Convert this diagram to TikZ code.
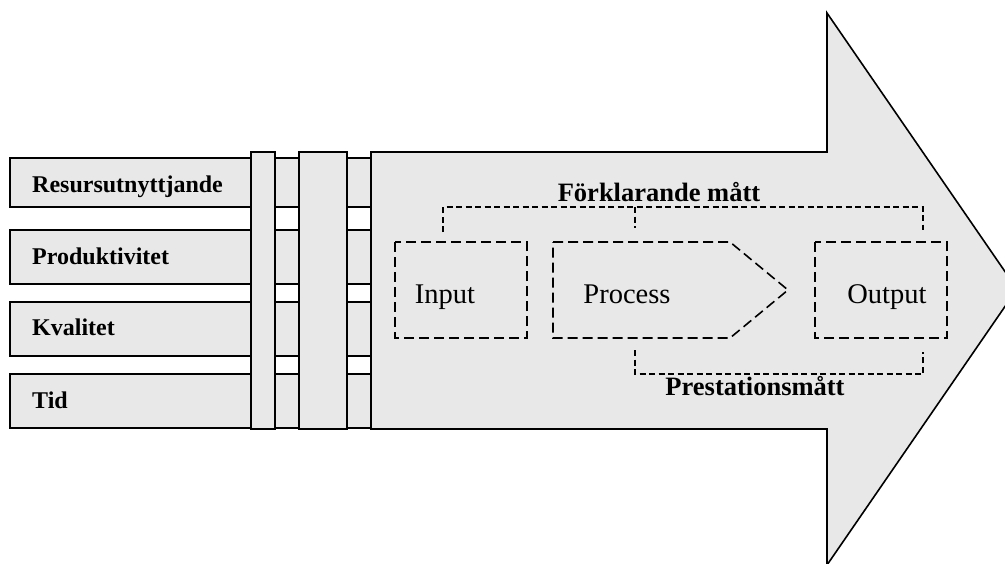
\documentclass[tikz,border=0pt]{standalone}
\usepackage{fontspec}
\setmainfont{Liberation Serif}
\begin{document}
\begin{tikzpicture}[x=1pt,y=-1pt,
  shapefill/.style={fill=black!9, draw=black, line width=1.6pt},
  barlabel/.style={anchor=base west, inner sep=0pt, font=\fontsize{24}{26}\selectfont\bfseries},
  headlabel/.style={inner sep=0pt, font=\fontsize{26.5}{29}\selectfont\bfseries},
  boxlabel/.style={anchor=base, inner sep=0pt, font=\fontsize{28.5}{31}\selectfont},
  dashbox/.style={draw=black, line width=1.6pt, dash pattern=on 10pt off 5pt},
  bracket/.style={draw=black, line width=1.4pt, dash pattern=on 6pt off 3.5pt}
]
\useasboundingbox (0,0) rectangle (1005,563);
\clip (0,0) rectangle (1005,563);
% horizontal bars
\draw[shapefill] (10,158) rectangle (371,207);
\draw[shapefill] (10,230) rectangle (371,284);
\draw[shapefill] (10,302) rectangle (371,356);
\draw[shapefill] (10,374) rectangle (371,428);
% columns
\draw[shapefill] (251,152) rectangle (275,429);
\draw[shapefill] (299,152) rectangle (347,429);
% big arrow
\draw[shapefill, line join=miter] (371,152) -- (827,152) -- (827,13) -- (1017,289) -- (827,565) -- (827,429) -- (371,429) -- cycle;
% bar labels
\node[barlabel] (l1) at (32,192) {Resursutnyttjande};
\node[barlabel] (l2) at (32,264) {Produktivitet};
\node[barlabel] (l3) at (32,335) {Kvalitet};
\node[barlabel] (l4) at (32,408) {Tid};
% dashed boxes
\coordinate (inNW) at (395,242);
\coordinate (inSE) at (527,338);
\draw[dashbox] (inNW) rectangle (inSE);
\coordinate (prNW) at (553,242);
\coordinate (prNE) at (730,242);
\coordinate (prTip) at (788,290);
\coordinate (prSE) at (730,338);
\coordinate (prSW) at (553,338);
\draw[dashbox] (prNW) -- (prNE) -- (prTip) -- (prSE) -- (prSW) -- cycle;
\coordinate (outNW) at (815,242);
\coordinate (outSE) at (947,338);
\draw[dashbox] (outNW) rectangle (outSE);
\node[boxlabel] (input) at (445,303) {Input};
\node[boxlabel] (process) at (627,303) {Process};
\node[boxlabel] (output) at (887,303) {Output};
% top bracket
\coordinate (t1) at (443,232);
\coordinate (t2) at (635,228);
\coordinate (t3) at (923,230);
\draw[bracket] (t1) -- (443,207) -- (923,207) -- (t3);
\draw[bracket] (635,207) -- (t2);
\node[headlabel, anchor=base] (fm) at (659,201) {Förklarande mått};
% bottom bracket
\coordinate (u1) at (635,350);
\coordinate (u2) at (923,352);
\draw[bracket] (u1) -- (635,374) -- (923,374) -- (u2);
\node[headlabel, anchor=base] (pm) at (755,395) {Prestationsmått};
\end{tikzpicture}
\end{document}
